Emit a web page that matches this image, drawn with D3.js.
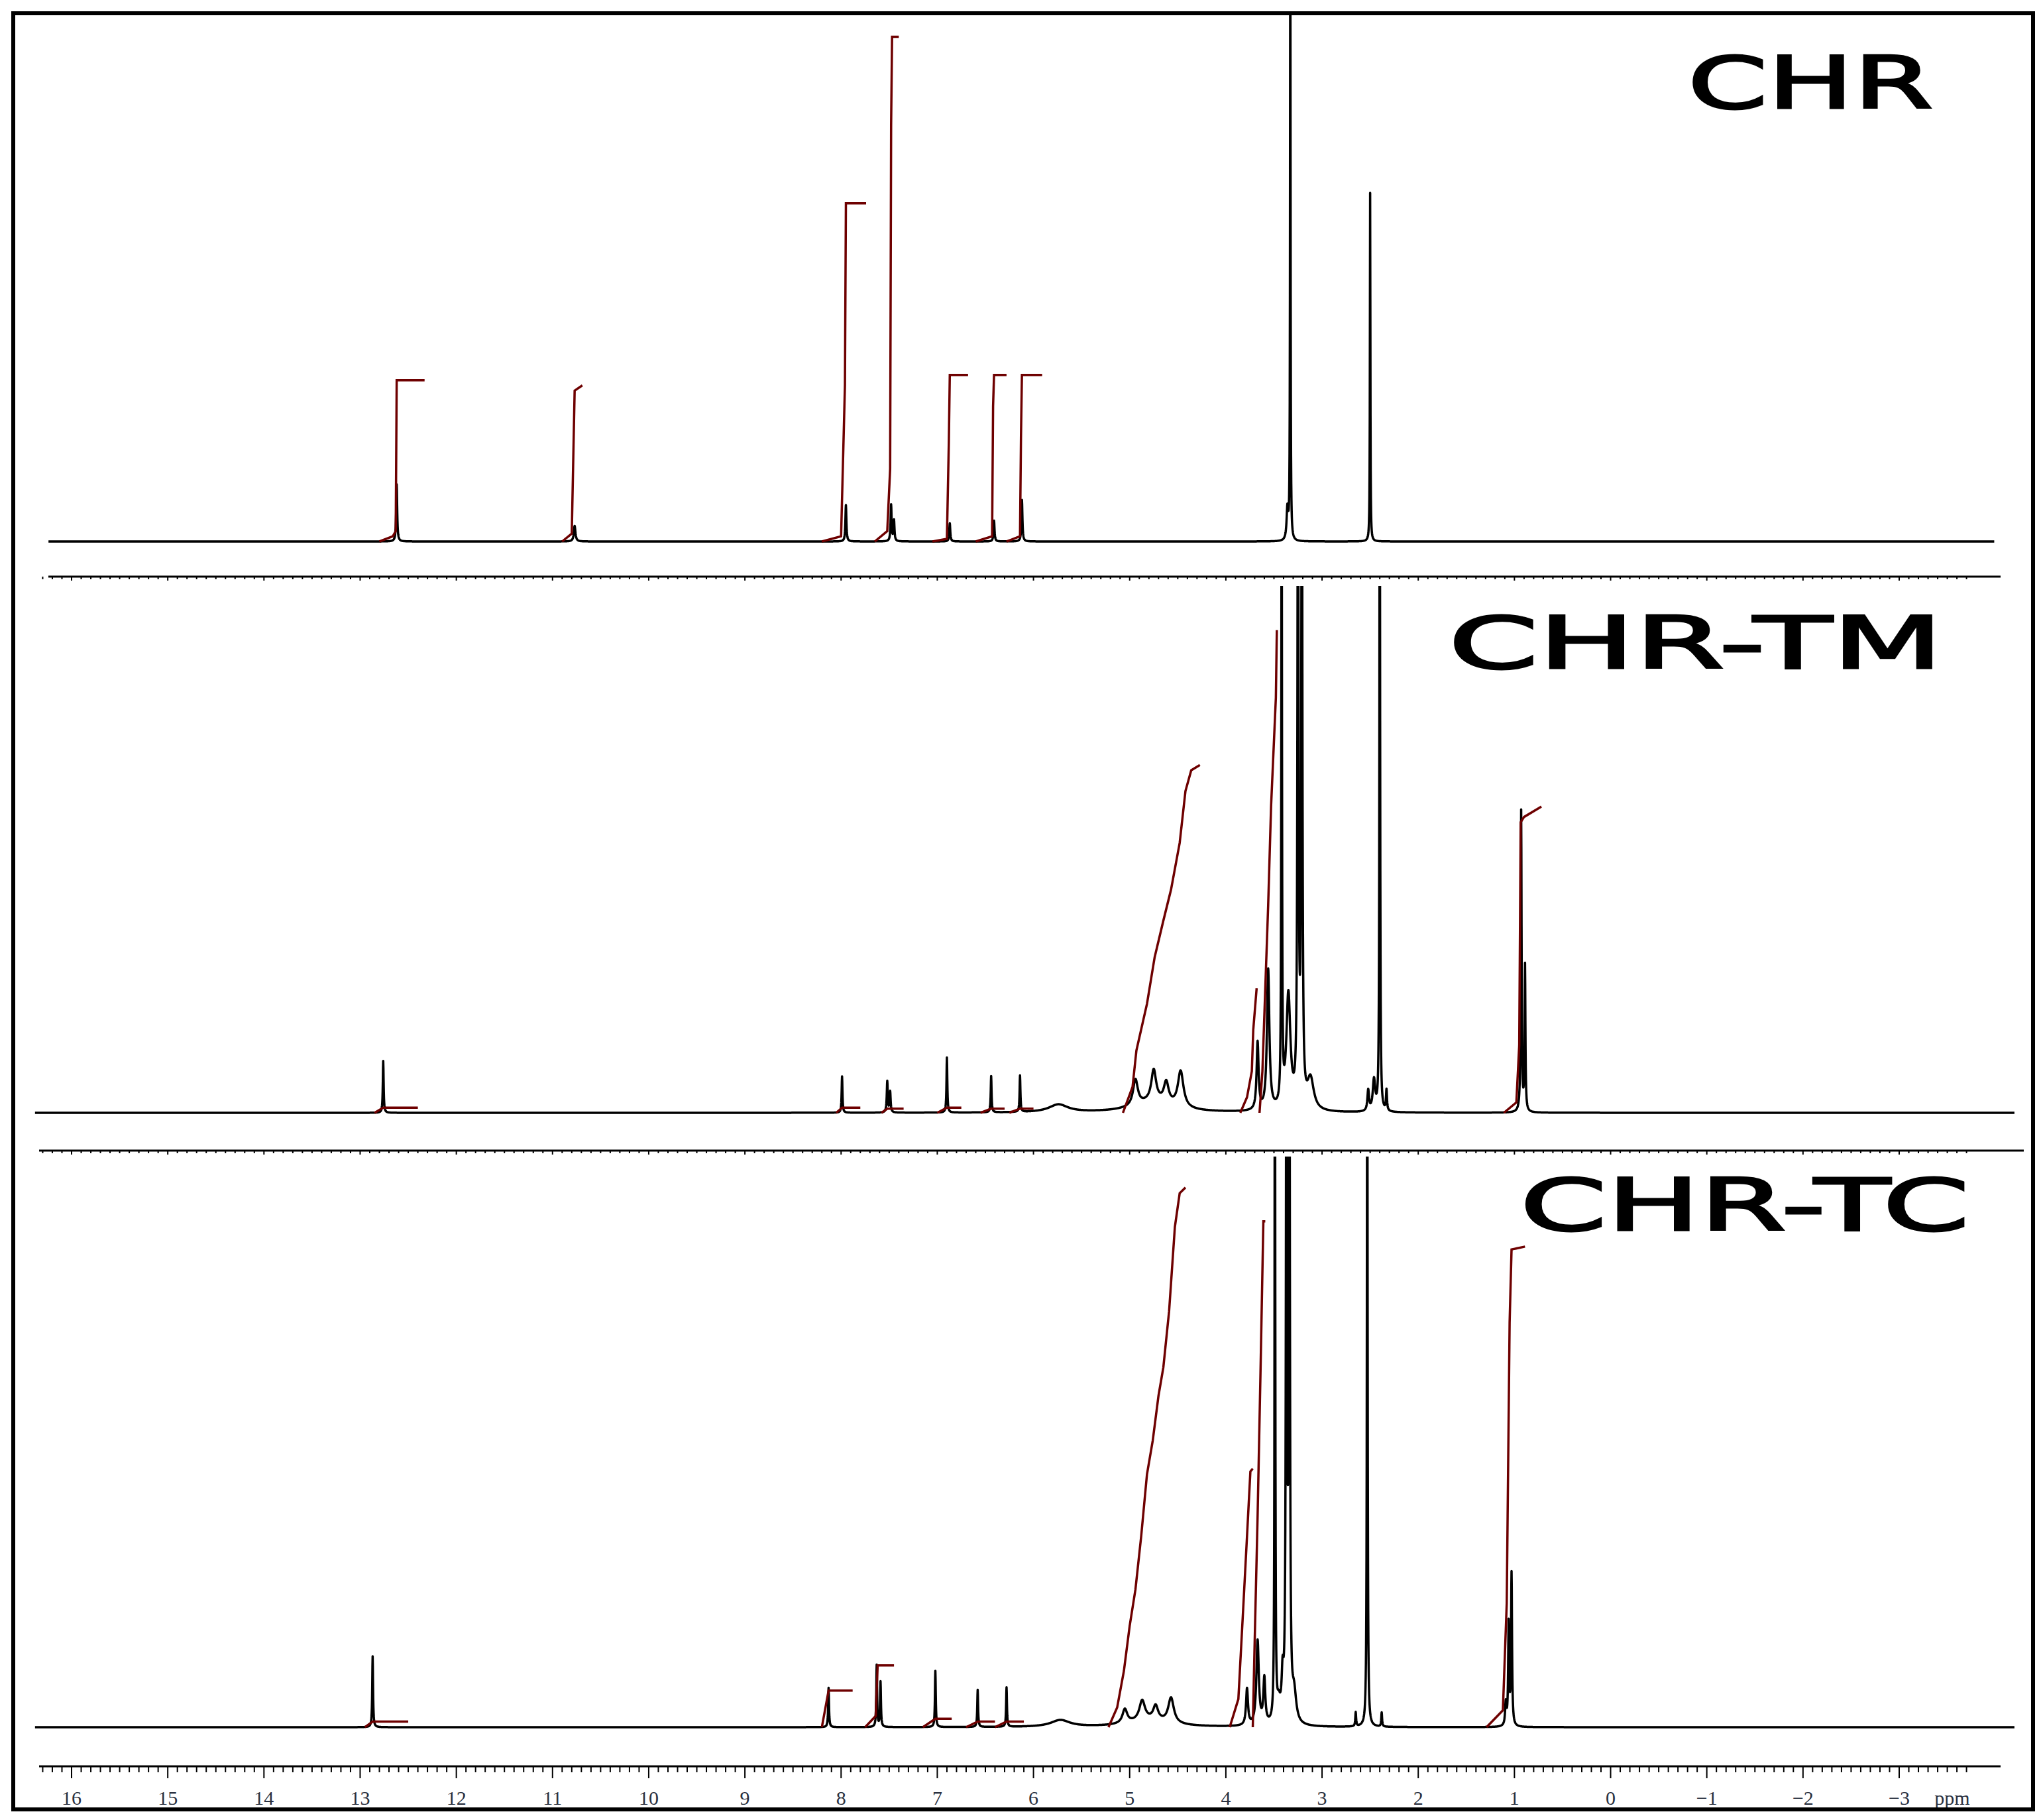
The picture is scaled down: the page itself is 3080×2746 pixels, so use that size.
<!DOCTYPE html>
<html>
<head>
<meta charset="utf-8">
<script src="https://cdn.jsdelivr.net/npm/d3@7"></script>
<style>
  body { margin: 0; background: #fff; }
  svg { display: block; }
</style>
</head>
<body>
<div id="app"></div>
<script>
const WIDTH = 3080, HEIGHT = 2746;

// sample names
const sampleNames = ['CHR', 'CHR-TM', 'CHR-TC'];

// peaks: [ppm, intensity (% of panel height), half width in ppm]
const peaksCHR = [
  [12.62, 11, 0.006], [10.77, 3, 0.01], [7.95, 7, 0.006], [7.48, 7, 0.006], [7.45, 4, 0.006],
  [6.87, 3.5, 0.006], [6.41, 4, 0.006], [6.12, 8, 0.006],
  [3.36, 6, 0.01], [3.33, 130, 0.003], [2.50, 67, 0.003]
];
const peaksTM = [
  [12.76, 10, 0.005], [7.99, 7, 0.005], [7.52, 6, 0.006], [7.49, 4, 0.006], [6.90, 10.6, 0.005],
  [6.44, 7, 0.005], [6.14, 7, 0.005], [5.74, 1.5, 0.12],
  [4.94, 5, 0.03], [4.75, 6, 0.03], [4.62, 4, 0.03], [4.47, 7, 0.035], [4.75, 2, 0.25],
  [3.67, 13, 0.012], [3.56, 27, 0.015], [3.42, 130, 0.004], [3.35, 22, 0.025],
  [3.25, 150, 0.006], [3.21, 150, 0.006], [3.12, 6, 0.04],
  [2.52, 4, 0.01], [2.46, 6, 0.015], [2.40, 150, 0.004], [2.33, 4, 0.006],
  [0.93, 58, 0.005], [0.89, 28, 0.005]
];
const peaksTC = [
  [12.87, 12.6, 0.005], [8.13, 7, 0.005], [7.63, 11, 0.005], [7.59, 8, 0.005], [7.02, 10, 0.005],
  [6.58, 6.6, 0.005], [6.28, 7, 0.005], [5.72, 1.2, 0.12],
  [5.05, 2.5, 0.03], [4.87, 3.5, 0.035], [4.73, 2.5, 0.03], [4.57, 4.5, 0.035], [4.8, 1.2, 0.25],
  [3.78, 6.5, 0.012], [3.67, 15, 0.015], [3.60, 8, 0.012], [3.49, 150, 0.004], [3.45, 3, 0.02],
  [3.41, 7, 0.012], [3.37, 150, 0.006], [3.34, 150, 0.006], [3.29, 5, 0.025],
  [2.65, 2.5, 0.005], [2.53, 150, 0.004], [2.38, 2.5, 0.005],
  [1.09, 4, 0.008], [1.06, 18, 0.006], [1.03, 27, 0.006]
];

// integral curves: lists of [ppm, level %]
const integralsCHR = [
  [[12.80, 0], [12.66, 1], [12.63, 2], [12.62, 31], [12.33, 31]],
  [[10.90, 0], [10.80, 1.5], [10.77, 29], [10.69, 30]],
  [[8.20, 0], [8.00, 1], [7.96, 30], [7.95, 65], [7.74, 65]],
  [[7.65, 0], [7.52, 2], [7.49, 14], [7.48, 80], [7.47, 97], [7.40, 97]],
  [[7.05, 0], [6.90, 0.5], [6.88, 19], [6.87, 32], [6.68, 32]],
  [[6.60, 0], [6.43, 1], [6.42, 26], [6.41, 32], [6.28, 32]],
  [[6.28, 0], [6.14, 1], [6.13, 20], [6.12, 32], [5.91, 32]]
];
const integralsTM = [
  [[12.85, 0], [12.76, 1], [12.40, 1]],
  [[8.05, 0], [7.99, 1], [7.80, 1]],
  [[7.58, 0], [7.52, 0.8], [7.35, 0.8]],
  [[7.00, 0], [6.90, 1], [6.75, 1]],
  [[6.55, 0], [6.44, 0.8], [6.30, 0.8]],
  [[6.25, 0], [6.14, 0.8], [6.00, 0.8]],
  [[5.07, 0], [4.97, 5], [4.93, 12], [4.82, 21], [4.74, 30], [4.65, 37], [4.57, 43],
   [4.48, 52], [4.42, 62], [4.36, 66], [4.27, 67]],
  [[3.85, 0], [3.78, 3], [3.73, 8], [3.715, 16], [3.68, 24]],
  [[3.65, 0], [3.62, 8], [3.56, 40], [3.53, 59], [3.48, 80], [3.47, 93]],
  [[1.11, 0], [0.98, 2], [0.95, 13], [0.935, 56], [0.90, 57], [0.72, 59]]
];
const integralsTC = [
  [[12.95, 0], [12.87, 1], [12.50, 1]],
  [[8.20, 0], [8.13, 6.5], [7.88, 6.5]],
  [[7.75, 0], [7.64, 2], [7.62, 11], [7.45, 11]],
  [[7.15, 0], [7.02, 1.5], [6.85, 1.5]],
  [[6.70, 0], [6.58, 1], [6.40, 1]],
  [[6.40, 0], [6.28, 1], [6.10, 1]],
  [[5.22, 0], [5.13, 3.5], [5.06, 10], [5.00, 18], [4.94, 24.5], [4.88, 34], [4.82, 45],
   [4.76, 51], [4.70, 59], [4.65, 64], [4.59, 74], [4.53, 89], [4.48, 95], [4.42, 96]],
  [[3.96, 0], [3.87, 5], [3.82, 21], [3.78, 34], [3.745, 45.5], [3.72, 46]],
  [[3.72, 0], [3.70, 15.5], [3.67, 37.5], [3.64, 63], [3.61, 90], [3.59, 90]],
  [[1.29, 0], [1.12, 3], [1.08, 22], [1.05, 72], [1.03, 85], [0.89, 85.5]]
];

// axis ticks
const majorTicks = d3.range(16, -4, -1);

const panels = [
  { name: sampleNames[0], peaks: peaksCHR, integrals: integralsCHR, top: 20, base: 817, span: [16.24, -3.99],
    label: [2547, 163, 370] },
  { name: sampleNames[1], peaks: peaksTM, integrals: integralsTM, top: 884, base: 1679, span: [16.38, -4.2],
    label: [2186, 1008, 746] },
  { name: sampleNames[2], peaks: peaksTC, integrals: integralsTC, top: 1745, base: 2606, span: [16.38, -4.2],
    label: [2294, 1856, 678] }
];

const svg = d3.select('#app').append('svg')
  .attr('width', WIDTH)
  .attr('height', HEIGHT);

const x = d3.scaleLinear().domain([16, -3]).range([108, 2866]);

const defs = svg.append('defs');

panels.forEach((p, i) => {
  const y = d3.scaleLinear().domain([0, 100]).range([p.base, p.base - (p.base - p.top) * 0.985]);

  defs.append('clipPath').attr('id', 'clip' + i)
    .append('rect').attr('x', 20).attr('y', p.top).attr('width', 3048).attr('height', p.base - p.top + 20);

  const g = svg.append('g').attr('clip-path', `url(#clip${i})`);

  // sample ppm grid plus peak centres so narrow tops are not missed
  const pts = d3.range(p.span[0], p.span[1], -0.002).concat(p.peaks.map(d => d[0]));
  pts.sort((a, b) => b - a);
  const spectrum = pts.map(v => [v, d3.sum(p.peaks, ([c, h, w]) => h * w * w / ((v - c) * (v - c) + w * w))]);

  g.append('path')
    .datum(spectrum)
    .attr('fill', 'none')
    .attr('stroke', '#000')
    .attr('stroke-width', 3.5)
    .attr('stroke-linejoin', 'round')
    .attr('d', d3.line().x(d => x(d[0])).y(d => y(Math.min(d[1], 140))));

  g.selectAll('path.integral')
    .data(p.integrals)
    .enter().append('path')
      .attr('class', 'integral')
      .attr('fill', 'none')
      .attr('stroke', '#6e0000')
      .attr('stroke-width', 3.5)
      .attr('d', d3.line().x(d => x(d[0])).y(d => y(d[1])));

  svg.append('text')
    .attr('x', p.label[0])
    .attr('y', p.label[1])
    .attr('textLength', p.label[2])
    .attr('lengthAdjust', 'spacingAndGlyphs')
    .attr('font-family', 'DejaVu Sans')
    .attr('font-size', 108)
    .attr('fill', '#000')
    .attr('stroke', '#000')
    .attr('stroke-width', 3)
    .text(p.name);
});

// tick rulers between panels and at the bottom
function ruler(yPos, x0, x1, minorLen, majorLen, withAxisLabels) {
  const g = svg.append('g');
  g.append('line').attr('x1', x0).attr('x2', x1).attr('y1', yPos).attr('y2', yPos)
    .attr('stroke', '#000').attr('stroke-width', 3);
  const minor = d3.range(16.3, -3.8, -0.1).map(v => Math.round(v * 10) / 10);
  g.selectAll('line.t').data(minor).enter().append('line')
    .attr('x1', d => x(d)).attr('x2', d => x(d))
    .attr('y1', yPos)
    .attr('y2', d => yPos + (Number.isInteger(d) ? majorLen : minorLen))
    .attr('stroke', '#000').attr('stroke-width', 2);
  if (withAxisLabels) {
    g.selectAll('text').data(majorTicks).enter().append('text')
      .attr('x', d => x(d)).attr('y', yPos + 58)
      .attr('text-anchor', 'middle')
      .attr('font-family', 'Liberation Serif')
      .attr('font-size', 30)
      .attr('fill', '#2a3140')
      .text(d => d < 0 ? '\u2212' + (-d) : d);
    g.append('text').attr('x', 2946).attr('y', yPos + 58)
      .attr('text-anchor', 'middle')
      .attr('font-family', 'Liberation Serif')
      .attr('font-size', 30)
      .attr('fill', '#2a3140')
      .text('ppm');
  }
}
ruler(870, 73, 3019, 4, 6, false);
ruler(1736, 59, 3054, 4, 6, false);
ruler(2665, 59, 3019, 9, 18, true);

// frame
svg.append('rect').attr('x', 20).attr('y', 20).attr('width', 3048).attr('height', 2710)
  .attr('fill', 'none').attr('stroke', '#000').attr('stroke-width', 6);
</script>
</body>
</html>
